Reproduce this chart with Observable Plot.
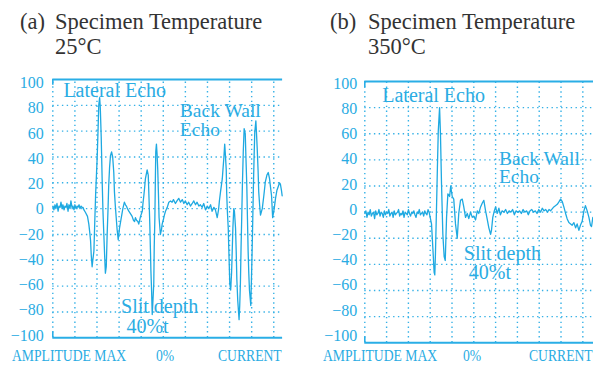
<!DOCTYPE html>
<html><head><meta charset="utf-8">
<script src="https://cdn.jsdelivr.net/npm/d3@7"></script>
<script src="https://cdn.jsdelivr.net/npm/@observablehq/plot@0.6"></script>
<style>
body{margin:0;background:#fff;}
#wrap{position:relative;width:593px;height:365px;overflow:hidden;font-family:"Liberation Serif","DejaVu Serif","Times New Roman",serif;background:#fff;}
.t{position:absolute;white-space:nowrap;line-height:1;}
.title{font-size:22.5px;color:#333;}
.cap{font-size:17.5px;color:#2aace3;transform:scaleX(0.78);transform-origin:0 0;}
.chart{position:absolute;top:0;}
</style></head><body><div id="wrap"></div>
<script>
// ---- text ----
const panelTags = ["(a)", "(b)"];
const panelTitle = "Specimen Temperature";
const temps = ["25°C", "350°C"];
const captions = ["AMPLITUDE MAX", "0%", "CURRENT"];
const notes = ["Lateral Echo", "Back Wall\nEcho", "Slit depth", "40%t"];

// ---- axes ----
const yTicks = [100, 80, 60, 40, 20, 0, -20, -40, -60, -80, -100];
const gridT = [0, 1, 2, 3, 4, 5, 6, 7, 8, 9, 10];
const gridA = [80, 60, 40, 20, 0, -20, -40, -60, -80];
const frameA = [100, -100];

// ---- (a) 25°C waveform: time (div) and amplitude (%) ----
const tA = [0.01,0.05,0.10,0.14,0.19,0.24,0.28,0.33,0.37,0.42,0.46,0.51,0.55,0.60,0.64,0.69,0.73,0.78,0.82,0.87,0.91,0.96,1.00,1.05,1.10,1.14,1.19,1.23,1.28,1.32,1.37,1.41,
1.48,1.57,1.63,1.67,1.71,1.74,1.78,1.81,1.86,1.90,
1.94,1.98,2.01,2.05,2.08,2.12,2.15,2.19,2.24,2.27,
2.31,2.35,2.38,2.42,2.46,2.50,2.53,2.57,2.61,2.66,
2.71,2.76,2.79,2.83,2.87,2.91,2.96,3.02,3.10,3.17,
3.24,3.29,3.33,3.38,3.44,3.52,3.59,3.65,3.70,3.74,
3.79,3.85,3.89,3.93,3.97,4.05,4.08,4.12,4.16,4.19,
4.27,4.32,4.36,4.39,4.42,4.44,4.47,4.50,4.53,4.57,
4.59,4.62,4.64,4.66,4.69,4.72,4.75,4.78,4.81,4.87,
4.92,4.95,5.01,5.05,5.10,5.18,5.25,5.33,5.40,5.46,
5.55,5.62,5.70,5.78,5.86,5.93,6.00,6.08,6.15,6.23,
6.31,6.38,6.46,6.53,6.61,6.68,6.76,6.83,6.91,6.99,
7.06,7.14,7.21,7.29,7.36,7.44,7.50,7.54,7.59,7.67,
7.70,7.74,7.78,7.81,7.85,7.87,7.90,7.94,7.96,8.01,
8.05,8.09,8.12,8.15,8.19,8.22,8.27,8.30,8.33,8.37,
8.43,8.46,8.49,8.52,8.55,8.58,8.62,8.66,8.71,8.74,
8.78,8.81,8.84,8.87,8.90,8.96,8.99,9.02,9.05,9.08,
9.11,9.14,9.19,9.22,9.25,9.29,9.32,9.36,9.40,9.48,
9.55,9.62,9.69,9.75,9.81,9.85,9.90,9.95,9.99,10.02,
10.08,10.14,10.20,10.26,10.30,10.35,10.38];
const aA = [2,-1,3,0,4,-2,2,1,5,0,3,-1,2,1,4,-2,3,0,6,1,2,-1,3,0,2,1,3,0,2,1,1,-1,
-3,-6,-12,-18,-25,-36,-45,-40,-33,-10,
12,28,40,62,80,86,78,56,18,-2,
-20,-38,-50,-45,-20,0,18,32,41,44,
40,28,13,2,-7,-16,-24,-15,-7,0,
5,3,2,0,-2,-4,-6,-9,-10,-7,
-9,-10,-12,-9,-6,-2,4,10,17,23,
30,26,5,-12,-33,-48,-63,-82,-72,-58,
-30,-7,20,44,50,42,30,12,-7,-20,
-16,-12,-8,-5,-2,1,5,6,5,7,
4,6,8,5,7,4,6,3,5,2,
4,6,3,5,2,3,1,4,-1,2,
0,3,-2,1,-1,-7,-1,6,13,23,
30,39,50,42,30,12,-2,-15,-28,-58,
-63,-50,-33,-15,0,-2,-15,-33,-55,-71,
-86,-75,-58,-30,-7,18,44,62,58,40,
18,-8,-33,-50,-63,-75,-55,-33,-8,18,
40,59,68,58,47,30,13,3,-5,0,
10,21,26,28,23,17,10,-7,-3,0,
8,14,17,20,19,14,10];

// ---- (b) 350°C waveform ----
const tB = [0.00,0.05,0.10,0.15,0.20,0.25,0.30,0.35,0.40,0.45,
0.50,0.55,0.60,0.65,0.70,0.75,0.80,0.85,0.90,0.95,
1.00,1.05,1.10,1.15,1.20,1.25,1.30,1.35,1.40,1.45,
1.50,1.55,1.60,1.65,1.70,1.75,1.80,1.85,1.90,1.95,
2.00,2.05,2.10,2.15,2.20,2.25,2.30,2.35,2.40,2.45,
2.50,2.55,2.60,2.65,2.70,2.75,2.80,2.85,2.90,2.95,
3.06,3.12,3.18,3.21,3.24,3.29,3.33,3.37,3.43,3.47,
3.52,3.58,3.64,3.69,3.75,3.81,3.89,3.94,4.01,4.08,
4.16,4.24,4.31,4.39,4.47,4.54,4.62,4.70,4.77,4.85,
4.93,5.00,5.08,5.16,5.23,5.31,5.39,5.46,5.54,5.61,
5.69,5.77,5.81,5.87,5.94,6.00,6.07,6.15,6.22,
6.30,6.38,6.46,6.54,6.62,6.70,6.78,6.86,6.94,7.02,
7.10,7.18,7.26,7.34,7.42,7.50,7.58,7.66,7.74,7.82,
7.90,7.98,8.06,8.14,8.22,8.30,8.38,8.45,
8.52,8.67,8.83,8.91,8.98,9.06,9.13,9.21,9.28,9.36,
9.44,9.51,9.59,9.67,9.74,9.82,9.89,9.97,10.05,10.12,
10.20,10.28,10.35,10.40,10.46];
const aB = [-1,1,-4,0,-2,2,-3,-1,0,-5,
1,-2,-1,2,-3,0,-1,-4,1,-2,
0,-1,2,-3,-1,0,-4,1,-2,-1,
0,2,-3,-1,-2,1,-4,0,-1,-2,
2,-1,-3,0,-1,1,-2,-4,0,-1,
2,-2,-1,0,-3,1,-1,-2,2,0,
-9,-27,-46,-48,-32,4,34,62,80,60,
21,-17,-34,-37,-4,14,12,20,12,10,
-9,-20,-1,9,10,4,-4,-1,-5,0,
-4,-3,-6,1,-1,4,7,9,1,-5,
-12,-17,-14,-4,1,4,-1,3,-2,
1,0,2,-1,1,0,2,-2,1,0,
1,-1,2,0,1,-2,1,2,0,1,
-1,2,0,3,1,2,0,2,
1,4,6,8,10,8,4,-1,-5,-8,
-9,-10,-8,-12,-9,-14,-10,-7,1,5,
1,-4,-10,-11,-4];

const series = [
  tA.map((t, i) => ({t, a: aA[i]})),
  tB.map((t, i) => ({t, a: aB[i]}))
];

// ---- styling / layout ----
const FONT = "'Liberation Serif', 'DejaVu Serif', 'Times New Roman', serif";
const cyan = "#1ea9e1";
const textCyan = "#2aace3";
const panels = [
  {left: 0, width: 296, mT: 79, mB: 7.7, mL: 52.3, mR: 13.9, xMax: 10.4, pad: 9,
   lb: -0.46, ls: 0.9775,
   tagX: 20, titleX: 55, capX: [11.7, 156, 217.7],
   notePos: [[0.48, 86.3], [5.75, 56.6], [3.09, -81], [3.33, -96.4]]},
  {left: 296, width: 297, mT: 81, mB: 2.7, mL: 68.3, mR: 0, xMax: 10.49, pad: 7.6,
   lb: 1.875, ls: 0.9636,
   tagX: 330, titleX: 368, capX: [322.7, 462.7, 529.3],
   notePos: [[0.80, 84.2], [6.15, 22.2], [4.54, -37], [4.77, -51]]}
];

const wrap = document.getElementById("wrap");
function addText(cls, txt, x, baseline, size) {
  const d = document.createElement("div");
  d.className = "t " + cls;
  d.textContent = txt;
  d.style.left = x + "px";
  d.style.top = (baseline - 0.8375 * size) + "px";
  wrap.appendChild(d);
}
const fmt = d => d < 0 ? "\u2212" + (-d) : String(d);

panels.forEach((p, k) => {
  const dotted = {stroke: "#35b1e6", strokeWidth: 1.4, strokeDasharray: "1.4,3.4"};
  const chart = Plot.plot({
    width: p.width, height: 345,
    marginTop: p.mT, marginBottom: p.mB, marginLeft: p.mL, marginRight: p.mR,
    x: {domain: [0, p.xMax], axis: null},
    y: {domain: [-100, 100], axis: null},
    style: {background: "transparent", fontFamily: FONT, overflow: "visible"},
    marks: [
      Plot.ruleX(gridT, {y1: -100, y2: 100, ...dotted}),
      Plot.ruleY(gridA, {x1: 0, x2: p.xMax, ...dotted}),
      Plot.ruleY(frameA, {x1: 0, x2: p.xMax, stroke: "#2aaee6", strokeWidth: 2}),
      Plot.ruleX(frameA, {x: () => 0, y1: d => d, y2: d => d * 0.955, stroke: "#2aaee6", strokeWidth: 1.6}),
      Plot.text(yTicks, {x: () => 0, y: d => p.lb + p.ls * d, text: fmt, textAnchor: "end", dx: -p.pad,
        lineAnchor: "middle", fontSize: 16, fill: textCyan, fontFamily: FONT}),
      Plot.line(series[k], {x: "t", y: "a", stroke: cyan, strokeWidth: 1.3, strokeLinejoin: "round"}),
      ...notes.map((n, j) => Plot.text([n], {
        x: p.notePos[j][0], y: p.notePos[j][1], text: d => d,
        textAnchor: "start", lineAnchor: "bottom", lineHeight: 0.94,
        fontSize: j === 1 ? 19.5 : 20, fill: textCyan, fontFamily: FONT
      }))
    ]
  });
  chart.classList.add("chart");
  chart.style.left = p.left + "px";
  wrap.appendChild(chart);

  addText("title", panelTags[k], p.tagX, 30, 22.5);
  addText("title", panelTitle, p.titleX, 30, 22.5);
  addText("title", temps[k], p.titleX, 55, 22.5);
  captions.forEach((c, j) => addText("cap", c, p.capX[j], 362, 17.5));
});
</script>
</body></html>
